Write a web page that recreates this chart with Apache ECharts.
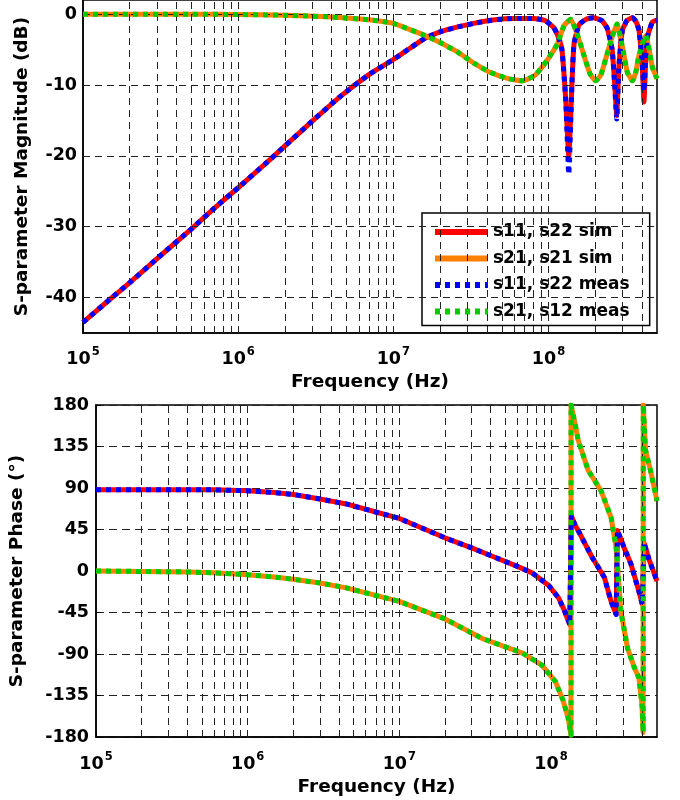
<!DOCTYPE html>
<html><head><meta charset="utf-8">
<script src="https://cdn.jsdelivr.net/npm/echarts@6/dist/echarts.min.js"></script>
<style>html,body{margin:0;padding:0;background:#fff}#c{width:680px;height:800px}</style>
</head><body><div id="c"></div>
<script>
// ---- data (frequency in Hz, value) ----
const s11MagSim = [[1e5,-43.5],[1.5e5,-40.2],[2e5,-37.9],[3e5,-34.5],[5e5,-30.3],[7e5,-27.4],[1e6,-24.5],[1.5e6,-21.1],[2e6,-18.6],[3e6,-15.1],[4.5e6,-11.7],[7e6,-8.5],[1e7,-6.4],[1.3e7,-4.7],[1.6e7,-3.4],[2e7,-2.5],[2.6e7,-1.8],[3.3e7,-1.3],[4.5e7,-0.8],[6e7,-0.6],[8e7,-0.6],[9.5e7,-0.9],[1.08e8,-1.9],[1.16e8,-3.3],[1.22e8,-5],[1.29e8,-12],[1.35e8,-20],[1.42e8,-9],[1.46e8,-4.2],[1.57e8,-1.5],[1.75e8,-0.7],[1.95e8,-0.5],[2.2e8,-0.9],[2.39e8,-2.0],[2.57e8,-5],[2.67e8,-10],[2.75e8,-14.3],[2.84e8,-7.5],[2.99e8,-2.3],[3.2e8,-0.9],[3.47e8,-0.5],[3.65e8,-1.0],[3.83e8,-2.3],[4.02e8,-7.5],[4.12e8,-12.4],[4.22e8,-7],[4.34e8,-3.2],[4.67e8,-1.1],[5e8,-0.85]];
const s11MagMeas = [[1e5,-43.5],[1.5e5,-40.2],[2e5,-37.9],[3e5,-34.5],[5e5,-30.3],[7e5,-27.4],[1e6,-24.5],[1.5e6,-21.1],[2e6,-18.6],[3e6,-15.1],[4.5e6,-11.7],[7e6,-8.5],[1e7,-6.4],[1.3e7,-4.7],[1.6e7,-3.4],[2e7,-2.5],[2.6e7,-1.8],[3.3e7,-1.3],[4.5e7,-0.8],[6e7,-0.6],[8e7,-0.6],[9.5e7,-0.9],[1.08e8,-1.9],[1.16e8,-3.3],[1.22e8,-5],[1.29e8,-12],[1.35e8,-22.6],[1.42e8,-9],[1.46e8,-4.2],[1.57e8,-1.5],[1.75e8,-0.7],[1.95e8,-0.5],[2.2e8,-0.9],[2.39e8,-2.0],[2.57e8,-5],[2.67e8,-10],[2.75e8,-14.8],[2.84e8,-7.5],[2.99e8,-2.3],[3.2e8,-0.9],[3.47e8,-0.5],[3.65e8,-1.0],[3.83e8,-2.3],[4.02e8,-7],[4.12e8,-10.9],[4.22e8,-6.5],[4.34e8,-3.2],[4.67e8,-1.1],[5e8,-0.85]];
const s21MagSim = [[1e5,0],[5e5,0],[1e6,-0.05],[2e6,-0.15],[4e6,-0.4],[7.4e6,-0.85],[1e7,-1.3],[1.22e7,-2.0],[1.6e7,-3.0],[2e7,-4.0],[2.57e7,-5.3],[3.3e7,-6.9],[4.2e7,-8.2],[5.5e7,-9.1],[6.8e7,-9.4],[8.2e7,-8.6],[9.8e7,-6.5],[1.14e8,-4.2],[1.26e8,-1.6],[1.39e8,-0.7],[1.53e8,-2.8],[1.69e8,-5.8],[1.85e8,-8.4],[2.01e8,-9.4],[2.17e8,-8.6],[2.33e8,-6.4],[2.57e8,-3.2],[2.76e8,-1.4],[2.99e8,-4.6],[3.22e8,-8.2],[3.47e8,-9.4],[3.65e8,-8.2],[3.83e8,-5.8],[4.23e8,-3.0],[4.45e8,-5],[4.67e8,-7.5],[5e8,-9.1]];
const s21MagMeas = [[1e5,0],[5e5,0],[1e6,-0.05],[2e6,-0.15],[4e6,-0.4],[7.4e6,-0.85],[1e7,-1.3],[1.22e7,-2.0],[1.6e7,-3.0],[2e7,-4.0],[2.57e7,-5.3],[3.3e7,-6.9],[4.2e7,-8.2],[5.5e7,-9.1],[6.8e7,-9.4],[8.2e7,-8.6],[9.8e7,-6.5],[1.14e8,-4.2],[1.26e8,-1.6],[1.39e8,-0.7],[1.53e8,-2.8],[1.69e8,-5.8],[1.85e8,-8.4],[2.01e8,-9.4],[2.17e8,-8.6],[2.33e8,-6.4],[2.57e8,-3.2],[2.76e8,-1.4],[2.99e8,-4.6],[3.22e8,-8.2],[3.47e8,-9.4],[3.65e8,-8.2],[3.83e8,-5.8],[4.23e8,-3.0],[4.45e8,-5],[4.67e8,-7.5],[5e8,-9.1]];
const s11PhaseSim = [[1e5,88],[3e5,88],[6e5,88],[1e6,87],[1.5e6,85],[2e6,83],[3e6,78],[4.4e6,73],[7e6,64],[1e7,57],[2e7,36],[3e7,25],[4.1e7,16],[6e7,5],[7.5e7,-2],[9.7e7,-16],[1.12e8,-29],[1.22e8,-42],[1.33e8,-58],[1.36e8,60],[1.44e8,50],[1.51e8,44],[1.85e8,16],[2.25e8,-7],[2.49e8,-33],[2.69e8,-47],[2.74e8,44],[3.04e8,25],[3.36e8,8],[3.8e8,-22],[4.0e8,-36],[4.1e8,31],[4.42e8,13],[5e8,-11]];
const s11PhaseMeas = [[1e5,88],[3e5,88],[6e5,88],[1e6,87],[1.5e6,85],[2e6,83],[3e6,78],[4.4e6,73],[7e6,64],[1e7,57],[2e7,36],[3e7,25],[4.1e7,16],[6e7,5],[7.5e7,-2],[9.7e7,-16],[1.12e8,-29],[1.22e8,-42],[1.33e8,-58],[1.36e8,60],[1.44e8,50],[1.51e8,44],[1.85e8,16],[2.25e8,-7],[2.49e8,-33],[2.69e8,-47],[2.74e8,44],[3.04e8,25],[3.36e8,8],[3.8e8,-22],[4.0e8,-36],[4.1e8,31],[4.42e8,13],[5e8,-11]];
const s21PhaseSim = [[1e5,0],[2e5,-0.5],[4e5,-1],[6e5,-2],[1e6,-4],[1.5e6,-6.5],[2e6,-9],[3e6,-13],[4.4e6,-18],[1e7,-33],[2e7,-52],[3.5e7,-73],[6.5e7,-89],[8.7e7,-102],[1.07e8,-120],[1.2e8,-140],[1.3e8,-160],[1.355e8,-178],[1.356e8,180],[1.44e8,160],[1.51e8,142],[1.76e8,109],[2.14e8,87],[2.49e8,58],[2.69e8,25],[2.89e8,-44],[3.2e8,-84],[3.55e8,-105],[3.8e8,-116],[3.98e8,-145],[4.05e8,-175],[4.06e8,180],[4.2e8,131],[4.53e8,109],[5e8,76]];
const s21PhaseMeas = [[1e5,0],[2e5,-0.5],[4e5,-1],[6e5,-2],[1e6,-4],[1.5e6,-6.5],[2e6,-9],[3e6,-13],[4.4e6,-18],[1e7,-33],[2e7,-52],[3.5e7,-73],[6.5e7,-89],[8.7e7,-102],[1.07e8,-120],[1.2e8,-140],[1.3e8,-160],[1.355e8,-178],[1.356e8,180],[1.44e8,160],[1.51e8,142],[1.76e8,109],[2.14e8,87],[2.49e8,58],[2.69e8,25],[2.89e8,-44],[3.2e8,-84],[3.55e8,-105],[3.8e8,-116],[3.98e8,-145],[4.05e8,-175],[4.06e8,180],[4.2e8,131],[4.53e8,109],[5e8,76]];
const magTicks = [-40,-30,-20,-10,0];
const gridFreqs = [2e5,3e5,4e5,5e5,6e5,7e5,8e5,9e5,1e6,2e6,3e6,4e6,5e6,6e6,7e6,8e6,9e6,1e7,2e7,3e7,4e7,5e7,6e7,7e7,8e7,9e7,1e8,2e8,3e8,4e8];
const names = ['s11, s22 sim','s21, s21 sim','s11, s22 meas','s21, s12 meas'];
const colors = ['#ff0000','#ff8000','#0000ff','#00cc00'];

const FF = 'DejaVu Sans';
const chart = echarts.init(document.getElementById('c'), null, {renderer:'canvas'});
const DOT = [5,5];

function xAxisCfg(gi, gap, margin){
  return {type:'log', logBase:10, min:1e5, max:5e8, gridIndex:gi,
    name:'Frequency (Hz)', nameLocation:'middle', nameGap:gap,
    nameTextStyle:{fontFamily:FF, fontWeight:'bold', fontSize:18.5, color:'#000'},
    axisLine:{onZero:false, lineStyle:{color:'#000', width:1.5}},
    axisTick:{show:true, inside:true, length:5, lineStyle:{color:'#000'}},
    splitLine:{show:false}, minorTick:{show:false},
    axisLabel:{margin:margin, showMaxLabel:false,
      formatter: v => { const l = Math.log10(v), e = Math.round(l); return Math.abs(l-e) > 1e-6 ? '' : '{b|10}{s|' + e + '}'; },
      rich:{ b:{fontFamily:FF, fontWeight:'bold', fontSize:17.5, color:'#000'},
             s:{fontFamily:FF, fontWeight:'bold', fontSize:11.5, color:'#000', padding:[0,0,14,1]} }
    }
  };
}
const gridLineStyle = {silent:true, symbol:['none','none'], label:{show:false}, animation:false,
  lineStyle:{color:'#222', width:1, type:[7,5]}, emphasis:{disabled:true}};

function lineSeries(i, gi, data){
  const meas = i >= 2;
  return {type:'line', name:names[i], xAxisIndex:gi, yAxisIndex:gi, data:data,
    showSymbol:false, symbol:'none', smooth: gi === 0 ? 0.15 : false,
    lineStyle:{color:colors[i], width:5, type: meas ? DOT : 'solid', cap:'butt', join:'round'},
    itemStyle:{color:colors[i]}, z: 3 + i, animation:false};
}

chart.setOption({
  animation:false,
  backgroundColor:'#fff',
  grid:[
    {left:83, right:23, top:0, height:333, show:true, borderColor:'#000', borderWidth:1.5, backgroundColor:'transparent'},
    {left:87, right:23, top:405, height:332, show:true, borderColor:'#000', borderWidth:1.5, backgroundColor:'transparent'}
  ],
  xAxis:[xAxisCfg(0,40,13), xAxisCfg(1,41,14)],
  yAxis:[
    {type:'value', gridIndex:0, min:-45, max:2,
     name:'S-parameter Magnitude (dB)', nameLocation:'middle', nameGap:51,
     nameTextStyle:{fontFamily:FF, fontWeight:'bold', fontSize:18.5, color:'#000'},
     axisLine:{show:true, onZero:false, lineStyle:{color:'#000', width:1.5}},
     axisTick:{show:true, inside:true, length:5, customValues:magTicks, lineStyle:{color:'#000'}},
     axisLabel:{customValues:magTicks, margin:6, fontFamily:FF, fontWeight:'bold', fontSize:17.5, color:'#000'},
     splitLine:{show:false}},
    {type:'value', gridIndex:1, min:-180, max:180, interval:45,
     name:'S-parameter Phase (°)', nameLocation:'middle', nameGap:69,
     nameTextStyle:{fontFamily:FF, fontWeight:'bold', fontSize:18.5, color:'#000'},
     axisLine:{show:true, onZero:false, lineStyle:{color:'#000', width:1.5}},
     axisTick:{show:true, inside:true, length:5, lineStyle:{color:'#000'}},
     axisLabel:{margin:7, fontFamily:FF, fontWeight:'bold', fontSize:17.5, color:'#000'},
     splitLine:{show:true, lineStyle:{color:'#222', width:1, type:[8,5]}}}
  ],
  legend:{
    data: names.map((n, i) => ({name:n, itemStyle:{opacity:0},
      lineStyle:{color:colors[i], width:6, type: i >= 2 ? DOT : 'solid', cap:'butt'}})),
    orient:'vertical', left:422, top:213, itemWidth:53, itemHeight:14, itemGap:6.5,
    padding:[9,20,4,10], backgroundColor:'#fff', borderColor:'#000', borderWidth:1.5, borderRadius:0,
    textStyle:{fontFamily:FF, fontWeight:'bold', fontSize:17, color:'#000', lineHeight:20},
    selectedMode:false},
  series:[
    {type:'line', xAxisIndex:0, yAxisIndex:0, data:[], z:1, silent:true,
     markLine:Object.assign({}, gridLineStyle, {data: gridFreqs.map(f => ({xAxis:f})).concat(magTicks.map(v => ({yAxis:v})))})},
    {type:'line', xAxisIndex:1, yAxisIndex:1, data:[], z:1, silent:true,
     markLine:Object.assign({}, gridLineStyle, {data: gridFreqs.map(f => ({xAxis:f}))})},
    lineSeries(0,0,s11MagSim), lineSeries(1,0,s21MagSim), lineSeries(2,0,s11MagMeas), lineSeries(3,0,s21MagMeas),
    lineSeries(0,1,s11PhaseSim), lineSeries(1,1,s21PhaseSim), lineSeries(2,1,s11PhaseMeas), lineSeries(3,1,s21PhaseMeas)
  ]
});
</script></body></html>
